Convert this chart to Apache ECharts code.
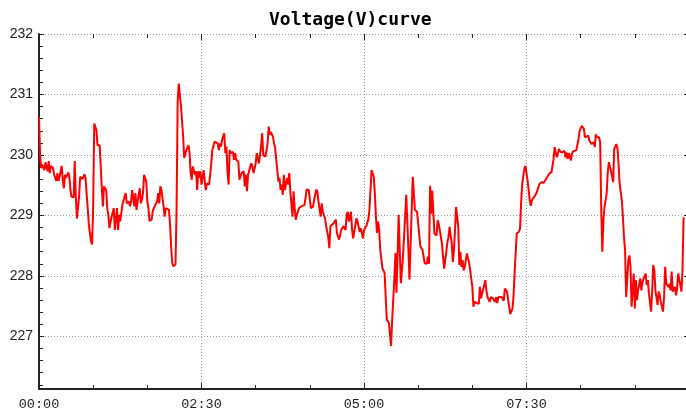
<!DOCTYPE html>
<html>
<head>
<meta charset="utf-8">
<title>Voltage(V)curve</title>
<script src="https://cdn.jsdelivr.net/npm/echarts@6/dist/echarts.min.js"></script>
<style>html,body{margin:0;padding:0;background:#fff;}</style>
</head>
<body>
<div id="main" style="width:686px;height:415px;"></div>
<script type="text/javascript">

// [minute of day, volts], one array per 2-hour stretch
var seg0000 = [
    [0, 230.63], [1, 230.00], [2, 229.78], [3, 229.84], [5, 229.75], [6, 229.88], [8, 229.73], [9, 229.90], [10, 229.70], [11, 229.82],
    [13, 229.78], [14, 229.67], [16, 229.57], [17, 229.70], [18, 229.57], [19, 229.64], [21, 229.82], [22, 229.56], [23, 229.45], [24, 229.67],
    [25, 229.62], [27, 229.71], [28, 229.64], [29, 229.42], [30, 229.31], [32, 229.30], [33, 229.90], [34, 229.31], [35, 228.95], [37, 229.31],
    [38, 229.64], [39, 229.62], [40, 229.60], [42, 229.68], [43, 229.62], [44, 229.34], [45, 229.12], [46, 228.85], [48, 228.57], [49, 228.52],
    [50, 229.12], [51, 230.52], [53, 230.41], [54, 230.16], [56, 230.16], [57, 230.15], [58, 229.45], [59, 229.15], [60, 229.48], [62, 229.42],
    [63, 229.12], [64, 229.01], [65, 228.79], [67, 228.98], [68, 229.01], [69, 229.12], [70, 228.76], [72, 229.12], [73, 228.76], [74, 229.01],
    [75, 228.90], [77, 229.18], [78, 229.20], [79, 229.31], [80, 229.37], [81, 229.20], [83, 229.23], [84, 229.15], [85, 229.23], [86, 229.42],
    [88, 229.15], [89, 229.37], [90, 229.09], [91, 229.23], [93, 229.45], [94, 229.20], [95, 229.26], [96, 229.37], [97, 229.67], [99, 229.56],
    [100, 229.23], [101, 229.12], [102, 228.91], [104, 228.93], [105, 229.07], [106, 229.12], [107, 229.09], [109, 229.23], [110, 229.37], [111, 229.20],
    [112, 229.48], [113, 229.42], [115, 229.15], [116, 228.98], [117, 229.12], [118, 229.12], [120, 229.09]
];
var seg0200 = [
    [121, 228.85], [122, 228.47], [123, 228.21], [124, 228.16], [126, 228.19], [127, 229.12], [128, 230.88], [129, 231.18], [130, 230.99], [131, 230.82],
    [133, 230.33], [134, 229.95], [135, 229.92], [136, 230.08], [138, 230.16], [139, 230.03], [140, 229.70], [141, 229.59], [142, 229.81], [144, 229.67],
    [145, 229.73], [146, 229.42], [147, 229.73], [148, 229.62], [149, 229.73], [150, 229.51], [152, 229.75], [153, 229.56], [154, 229.42], [155, 229.53],
    [157, 229.51], [158, 229.67], [159, 229.86], [160, 230.08], [162, 230.22], [163, 230.25], [165, 230.19], [166, 230.08], [167, 230.19], [168, 230.14],
    [169, 230.25], [171, 230.36], [172, 230.03], [173, 230.14], [174, 229.73], [175, 229.51], [176, 230.08], [177, 230.03], [179, 230.05], [180, 229.92],
    [181, 230.03], [182, 229.92], [184, 229.89], [185, 229.59], [186, 229.56], [187, 229.70], [189, 229.73], [190, 229.48], [191, 229.67], [192, 229.40],
    [193, 229.67], [195, 229.81], [196, 229.86], [197, 229.81], [198, 229.70], [200, 229.86], [201, 230.03], [202, 230.05], [203, 229.86], [205, 230.14],
    [206, 230.36], [207, 230.00], [208, 230.03], [209, 229.97], [211, 230.19], [212, 230.47], [213, 230.33], [214, 230.38], [216, 230.30], [217, 230.19],
    [218, 230.11], [219, 229.92], [221, 229.56], [222, 229.62], [223, 229.42], [224, 229.51], [225, 229.34], [226, 229.67], [227, 229.42], [229, 229.62],
    [230, 229.51], [231, 229.70], [232, 229.40], [234, 228.98], [235, 229.40], [236, 229.12], [237, 228.93], [238, 229.01], [240, 229.12]
];
var seg0400 = [
    [241, 229.09], [242, 229.15], [243, 229.12], [245, 229.17], [246, 229.28], [247, 229.43], [248, 229.42], [249, 229.42], [251, 229.12], [252, 229.09],
    [253, 229.15], [254, 229.26], [256, 229.43], [257, 229.39], [258, 229.23], [259, 229.21], [260, 228.98], [261, 229.20], [262, 229.06], [264, 228.95],
    [265, 228.84], [266, 228.73], [267, 228.65], [268, 228.46], [269, 228.82], [270, 228.84], [272, 228.87], [273, 228.90], [274, 228.93], [275, 228.71],
    [277, 228.60], [278, 228.62], [279, 228.76], [280, 228.73], [281, 228.82], [283, 228.76], [284, 229.01], [285, 229.06], [286, 228.90], [288, 229.06],
    [289, 228.76], [290, 228.62], [291, 228.60], [293, 228.95], [294, 228.90], [295, 228.87], [296, 228.73], [297, 228.79], [299, 228.62], [300, 228.76],
    [301, 228.79], [302, 228.82], [304, 228.93], [305, 229.09], [306, 229.42], [307, 229.75], [309, 229.64], [310, 229.37], [311, 228.98], [312, 228.71],
    [313, 228.90], [314, 228.76], [315, 228.43], [317, 228.13], [318, 228.10], [319, 228.05], [320, 227.66], [321, 227.28], [323, 227.22], [324, 227.25],
    [325, 226.84], [326, 227.28], [328, 227.94], [329, 228.38], [330, 227.72], [332, 229.01], [334, 227.88], [336, 228.32], [339, 229.34], [341, 228.43],
    [342, 227.94], [345, 229.64], [347, 229.09], [349, 229.06], [350, 228.87], [352, 228.49], [354, 228.43], [356, 228.21], [358, 228.20], [359, 228.32],
    [360, 228.20]
];
var seg0600 = [
    [361, 229.49], [362, 229.03], [363, 229.41], [365, 228.70], [367, 228.67], [368, 228.92], [369, 228.86], [371, 228.64], [372, 228.53], [373, 228.31],
    [374, 228.12], [376, 228.40], [377, 228.56], [378, 228.64], [379, 228.81], [381, 228.53], [382, 228.23], [383, 228.42], [384, 228.75], [385, 229.14],
    [387, 228.81], [388, 228.18], [389, 228.40], [390, 228.15], [391, 228.26], [392, 228.09], [393, 228.15], [395, 228.37], [396, 228.29], [397, 228.23],
    [398, 228.20], [400, 227.82], [401, 227.49], [402, 227.57], [403, 227.55], [406, 227.54], [407, 227.82], [408, 227.63], [409, 227.71], [411, 227.85],
    [412, 227.93], [413, 227.76], [414, 227.65], [416, 227.57], [417, 227.65], [419, 227.63], [421, 227.57], [422, 227.65], [423, 227.55], [424, 227.65],
    [427, 227.65], [429, 227.59], [430, 227.79], [432, 227.74], [433, 227.71], [434, 227.49], [435, 227.37], [437, 227.46], [438, 227.65], [439, 228.04],
    [440, 228.37], [441, 228.70], [443, 228.73], [444, 228.78], [445, 229.19], [446, 229.52], [448, 229.77], [449, 229.82], [450, 229.81], [451, 229.58],
    [453, 229.25], [454, 229.16], [455, 229.25], [456, 229.27], [459, 229.36], [460, 229.41], [462, 229.52], [464, 229.55], [466, 229.54], [469, 229.63],
    [471, 229.69], [473, 229.71], [475, 229.93], [476, 230.13], [477, 230.04], [478, 229.96], [480, 230.10]
];
var seg0800 = [
    [481, 230.06], [482, 230.08], [483, 230.04], [485, 230.07], [486, 229.96], [487, 230.04], [488, 229.93], [489, 230.03], [491, 229.91], [492, 230.02],
    [493, 230.06], [494, 230.04], [496, 230.08], [497, 230.10], [498, 230.26], [499, 230.40], [501, 230.48], [502, 230.51], [503, 230.43], [504, 230.29],
    [505, 230.26], [507, 230.32], [508, 230.24], [509, 230.26], [510, 230.18], [512, 230.21], [513, 230.13], [514, 230.34], [515, 230.30], [517, 230.29],
    [518, 230.21], [519, 229.08], [520, 228.40], [521, 228.92], [522, 229.14], [523, 229.16], [524, 229.36], [525, 229.71], [526, 229.88], [528, 229.74],
    [529, 229.74], [530, 229.55], [531, 230.10], [533, 230.18], [534, 230.10], [535, 229.85], [536, 229.52], [538, 229.25], [539, 228.97], [540, 228.64],
    [541, 228.42], [542, 227.65], [544, 228.26], [545, 228.34], [546, 228.15], [547, 227.49], [549, 228.04], [550, 227.46], [551, 227.93], [552, 227.60],
    [553, 227.76], [555, 227.96], [556, 227.76], [557, 227.90], [558, 227.87], [560, 228.04], [561, 227.85], [562, 227.93], [563, 227.71], [565, 227.41],
    [566, 227.74], [567, 228.18], [568, 228.09], [569, 227.76], [571, 227.52], [572, 227.74], [573, 227.68], [574, 227.57], [576, 227.41], [577, 227.65],
    [578, 228.15], [579, 227.87], [581, 227.82], [582, 227.87], [583, 227.76], [584, 228.07], [585, 227.74], [587, 227.82], [588, 227.68], [589, 227.79],
    [590, 228.04], [592, 227.85], [593, 227.74], [594, 228.09], [595, 228.97]
];

// axis ticks
var yLabelValues = [227, 228, 229, 230, 231, 232];
var yFineTicks = [
    226.2, 226.4, 226.6, 226.8, 227, 227.2, 227.4, 227.6, 227.8, 228,
    228.2, 228.4, 228.6, 228.8, 229, 229.2, 229.4, 229.6, 229.8, 230,
    230.2, 230.4, 230.6, 230.8, 231, 231.2, 231.4, 231.6, 231.8, 232
];

var voltage = seg0000.concat(seg0200, seg0400, seg0600, seg0800);

function hhmm(m) {
    var h = Math.floor(m / 60), mm = m % 60;
    return (h < 10 ? '0' : '') + h + ':' + (mm < 10 ? '0' : '') + mm;
}

var axisColor = '#222';
var dots = { color: '#9a9a9a', type: [1, 2], width: 1 };

var chart = echarts.init(document.getElementById('main'));

var option = {
    animation: false,
    backgroundColor: '#fff',
    title: {
        text: 'Voltage(V)curve',
        left: 264,
        top: 6,
        textStyle: { fontFamily: 'DejaVu Sans Mono', fontWeight: 'bold', fontSize: 18, color: '#000' }
    },
    grid: { left: 39, right: -3, top: 34, bottom: 26, outerBoundsMode: 'none' },
    xAxis: [{
        type: 'value',
        position: 'bottom',
        min: 0,
        max: 600,
        interval: 150,
        axisLine: { lineStyle: { color: axisColor, width: 2 } },
        axisTick: { inside: true, length: 6, lineStyle: { color: axisColor } },
        minorTick: { show: true, splitNumber: 3, length: 4, lineStyle: { color: axisColor } },
        axisLabel: {
            formatter: hhmm,
            showMaxLabel: false,
            fontFamily: 'Liberation Mono',
            fontSize: 13.5,
            color: '#222',
            margin: 8
        },
        splitLine: { show: true, lineStyle: dots }
    }, {
        type: 'value',
        position: 'top',
        min: 0,
        max: 600,
        interval: 150,
        axisLine: { show: false },
        axisTick: { inside: true, length: 6, lineStyle: { color: axisColor } },
        minorTick: { show: true, splitNumber: 3, length: 4, lineStyle: { color: axisColor } },
        axisLabel: { show: false },
        splitLine: { show: false }
    }],
    yAxis: [{
        type: 'value',
        position: 'left',
        min: 226.13,
        max: 232,
        axisLine: { show: true, lineStyle: { color: axisColor, width: 2 } },
        axisTick: { show: true, inside: true, length: 5, customValues: yLabelValues, lineStyle: { color: axisColor } },
        axisLabel: {
            customValues: yLabelValues,
            fontFamily: 'Liberation Sans',
            fontSize: 14,
            color: '#222',
            margin: 6
        },
        splitLine: { show: true, lineStyle: dots }
    }, {
        type: 'value',
        position: 'left',
        min: 226.13,
        max: 232,
        axisLine: { show: false },
        axisTick: { show: true, inside: true, length: 4, customValues: yFineTicks, lineStyle: { color: axisColor } },
        axisLabel: { show: false },
        splitLine: { show: false }
    }, {
        type: 'value',
        position: 'right',
        min: 226.13,
        max: 232,
        axisLine: { show: true, lineStyle: { color: axisColor, width: 2 } },
        axisTick: { show: true, inside: true, length: 5, customValues: yLabelValues, lineStyle: { color: axisColor } },
        axisLabel: { show: false },
        splitLine: { show: false }
    }],
    series: [{
        type: 'line',
        xAxisIndex: 0,
        yAxisIndex: 0,
        data: voltage,
        showSymbol: false,
        symbol: 'none',
        lineStyle: { color: '#ff0000', width: 2 }
    }]
};

chart.setOption(option);

</script>
</body>
</html>
